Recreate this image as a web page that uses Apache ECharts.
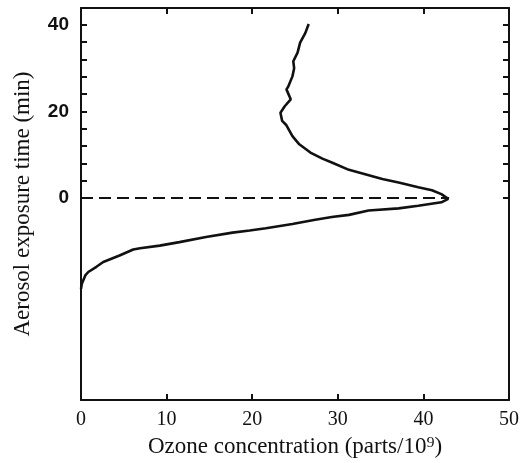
<!DOCTYPE html>
<html style="height: 100%">
    <head>
        <meta charset="utf-8">
    </head>
    <body style="height: 100%; margin: 0; background: #fff">
        <div id="container" style="width: 522px; height: 463px"></div>
        <script type="text/javascript" src="https://cdn.jsdelivr.net/npm/echarts@6/dist/echarts.min.js"></script>
        <script type="text/javascript">
    // ozone trace, top (40 min) down to where it meets the axis
    var ozone = [26.6, 26.2, 25.6, 25.3, 24.8, 24.9, 24.7, 24.2, 24.0, 24.5, 23.8, 23.3, 23.5, 24.0,
                 24.7, 25.5, 26.8, 28.2, 29.3, 31.3, 33.2, 35.2, 37.1, 39.4, 41.0, 42.1, 42.9, 42.1,
                 39.4, 37.1, 33.6, 31.3, 29.3, 27.2, 24.7, 21.6, 19.7, 17.7, 14.6, 11.5, 9.2, 6.9,
                 6.1, 4.5, 2.6, 1.8, 0.85, 0.5, 0.1, 0];
    var time = [40.2, 38.1, 35.9, 33.6, 31.6, 30.0, 28.1, 25.7, 25.1, 22.8, 21.2, 19.7, 17.8, 16.8,
                14.3, 12.4, 10.5, 9.1, 8.2, 6.5, 5.5, 4.4, 3.6, 2.5, 1.8, 0.9, -0.2, -1.0,
                -1.8, -2.4, -2.9, -3.9, -4.4, -5.1, -6.0, -7.0, -7.5, -8.0, -9.0, -10.2, -11.0, -11.6,
                -11.9, -13.3, -14.8, -15.9, -17.1, -17.9, -19.8, -21];

    // dashed reference line at exposure start
    var dashOzone = [0, 43];
    var dashTime = [0, 0];

    var yTicks = [0, 4, 8, 12, 16, 20, 24, 28, 32, 36, 40];
    var yLabels = [0, 20, 40];

    var curve = [];
    for (var i = 0; i < ozone.length; i++) {
        curve.push([ozone[i], time[i]]);
    }
    var dash = [];
    for (var i = 0; i < dashOzone.length; i++) {
        dash.push([dashOzone[i], dashTime[i]]);
    }

    var font = '"Liberation Serif", "DejaVu Serif", serif';
    var ink = '#111';

    var myChart = echarts.init(document.getElementById('container'), null, {renderer: 'canvas'});

    function xAx(pos, labels) {
        return {
            type: 'value',
            position: pos,
            min: 0,
            max: 50,
            interval: 10,
            name: labels ? 'Ozone concentration (parts/10\u2079)' : '',
            nameLocation: 'middle',
            nameGap: 31,
            nameTextStyle: {fontFamily: font, fontSize: 23, color: ink},
            axisLine: {show: true, onZero: false, lineStyle: {color: ink, width: 2}},
            axisTick: {show: true, inside: true, length: 6, lineStyle: {color: ink, width: 2}},
            axisLabel: {show: labels, margin: 10, fontFamily: font, fontSize: 20, color: ink},
            splitLine: {show: false}
        };
    }

    function yAx(pos, labels) {
        return {
            type: 'value',
            position: pos,
            min: -46.7,
            max: 43.9,
            name: labels ? 'Aerosol exposure time (min)' : '',
            nameLocation: 'middle',
            nameGap: 47,
            nameTextStyle: {fontFamily: font, fontSize: 23, color: ink},
            axisLine: {show: true, onZero: false, lineStyle: {color: ink, width: 2}},
            axisTick: {show: true, inside: true, length: 6, customValues: yTicks, lineStyle: {color: ink, width: 2}},
            axisLabel: {show: labels, margin: 12, customValues: yLabels, fontFamily: '"Liberation Sans", Arial, sans-serif',
                        fontSize: 19, fontWeight: 'bold', color: ink},
            splitLine: {show: false}
        };
    }

    var option = {
        animation: false,
        backgroundColor: '#fff',
        grid: {left: 81, right: 11, top: 8, bottom: 61, containLabel: false},
        xAxis: [xAx('bottom', true), xAx('top', false)],
        yAxis: [yAx('left', true), yAx('right', false)],
        series: [
            {
                type: 'line',
                data: dash,
                showSymbol: false,
                lineStyle: {color: ink, width: 2, type: [12, 6]},
                silent: true
            },
            {
                type: 'line',
                data: curve,
                showSymbol: false,
                smooth: false,
                lineStyle: {color: ink, width: 2.6},
                silent: true
            }
        ]
    };

    myChart.setOption(option);
        </script>
    </body>
</html>
